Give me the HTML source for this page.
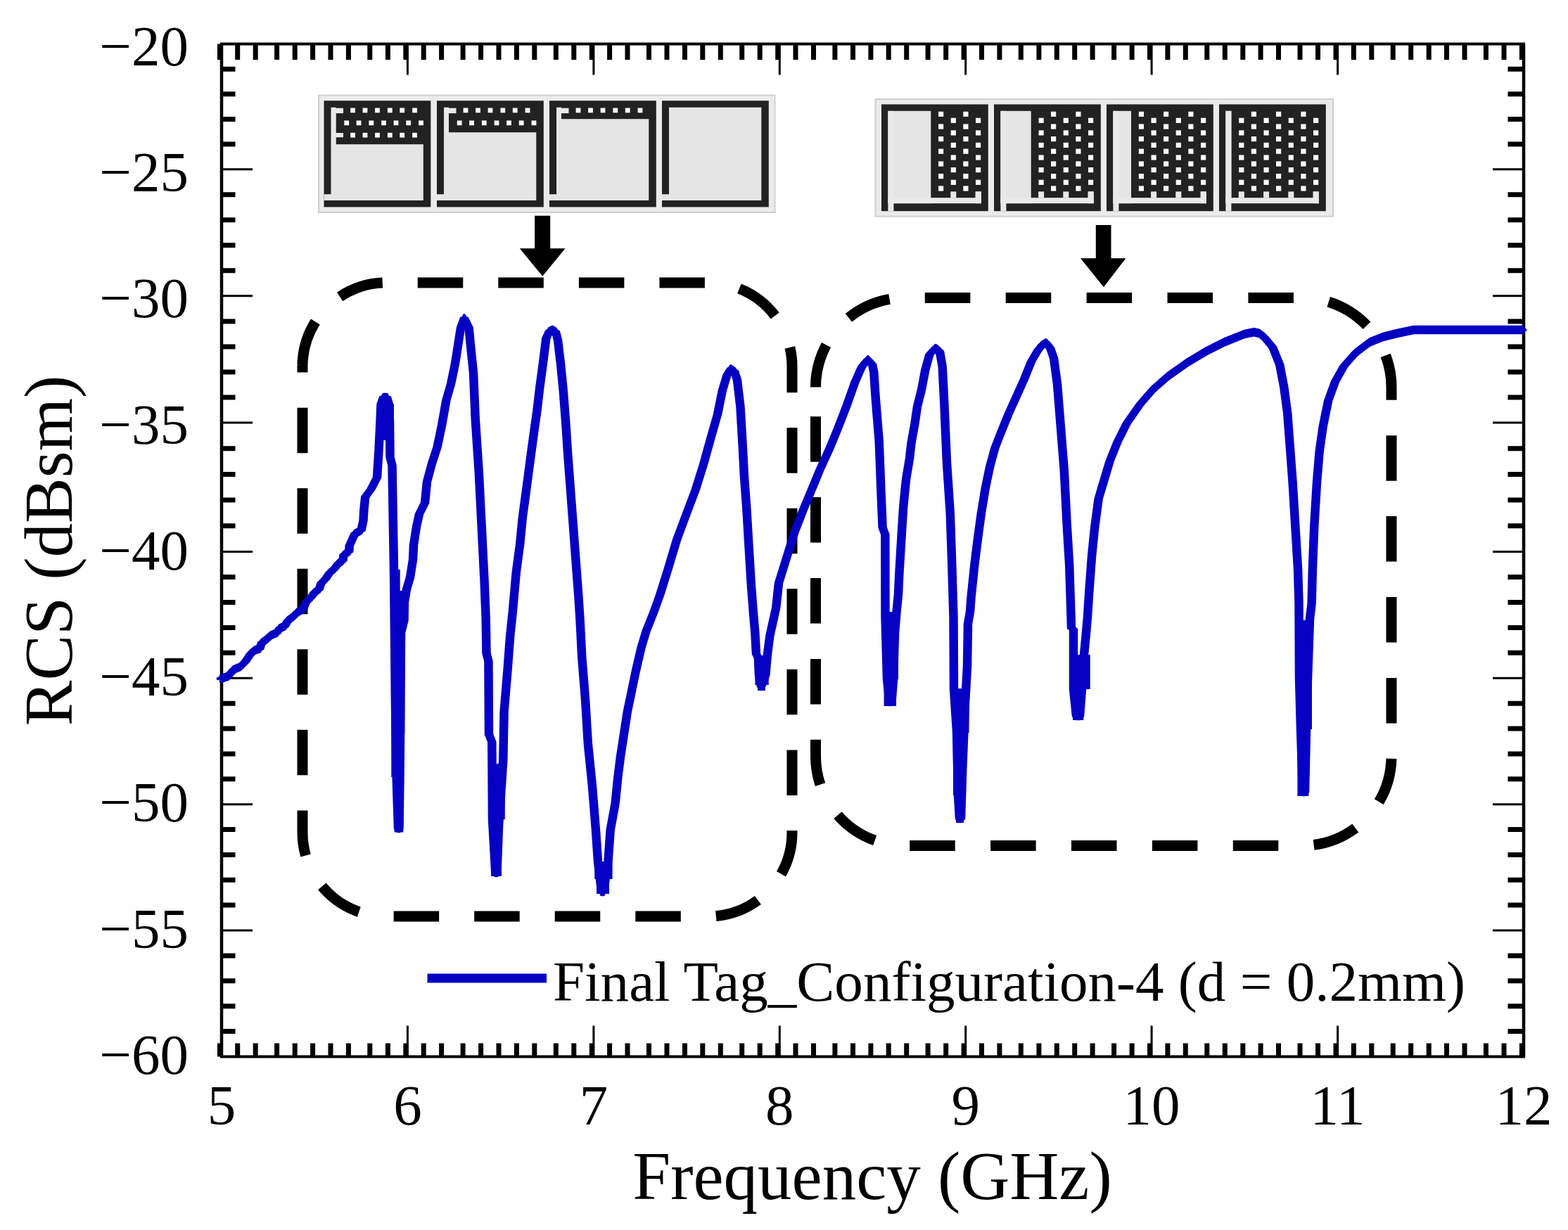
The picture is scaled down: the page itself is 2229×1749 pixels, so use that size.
<!DOCTYPE html>
<html><head><meta charset="utf-8"><title>RCS vs Frequency</title><style>html,body{margin:0;padding:0;background:#fff;overflow:hidden}svg{display:block}</style></head><body>
<svg width="2229" height="1749" viewBox="0 0 2229 1749">
<rect x="0" y="0" width="2229" height="1749" fill="#ffffff"/>
<path d="M312.4,1502.5V1483.5M312.4,62.5V85.0 M337.7,1502.5V1483.5M337.7,62.5V85.0 M363.2,1502.5V1483.5M363.2,62.5V85.0 M393.6,1502.5V1483.5M393.6,62.5V85.0 M419.2,1502.5V1483.5M419.2,62.5V85.0 M444.6,1502.5V1483.5M444.6,62.5V85.0 M470.0,1502.5V1483.5M470.0,62.5V85.0 M495.4,1502.5V1483.5M495.4,62.5V85.0 M525.8,1502.5V1483.5M525.8,62.5V85.0 M551.4,1502.5V1483.5M551.4,62.5V85.0 M576.8,1502.5V1483.5M576.8,62.5V85.0 M602.2,1502.5V1483.5M602.2,62.5V85.0 M627.6,1502.5V1483.5M627.6,62.5V85.0 M658.1,1502.5V1483.5M658.1,62.5V85.0 M683.6,1502.5V1483.5M683.6,62.5V85.0 M709.0,1502.5V1483.5M709.0,62.5V85.0 M734.4,1502.5V1483.5M734.4,62.5V85.0 M759.8,1502.5V1483.5M759.8,62.5V85.0 M790.3,1502.5V1483.5M790.3,62.5V85.0 M815.8,1502.5V1483.5M815.8,62.5V85.0 M841.3,1502.5V1483.5M841.3,62.5V85.0 M866.6,1502.5V1483.5M866.6,62.5V85.0 M892.0,1502.5V1483.5M892.0,62.5V85.0 M922.5,1502.5V1483.5M922.5,62.5V85.0 M948.0,1502.5V1483.5M948.0,62.5V85.0 M973.5,1502.5V1483.5M973.5,62.5V85.0 M998.8,1502.5V1483.5M998.8,62.5V85.0 M1024.3,1502.5V1483.5M1024.3,62.5V85.0 M1054.7,1502.5V1483.5M1054.7,62.5V85.0 M1080.2,1502.5V1483.5M1080.2,62.5V85.0 M1105.7,1502.5V1483.5M1105.7,62.5V85.0 M1131.0,1502.5V1483.5M1131.0,62.5V85.0 M1156.5,1502.5V1483.5M1156.5,62.5V85.0 M1186.9,1502.5V1483.5M1186.9,62.5V85.0 M1212.5,1502.5V1483.5M1212.5,62.5V85.0 M1237.9,1502.5V1483.5M1237.9,62.5V85.0 M1263.2,1502.5V1483.5M1263.2,62.5V85.0 M1288.7,1502.5V1483.5M1288.7,62.5V85.0 M1319.1,1502.5V1483.5M1319.1,62.5V85.0 M1344.7,1502.5V1483.5M1344.7,62.5V85.0 M1370.1,1502.5V1483.5M1370.1,62.5V85.0 M1395.5,1502.5V1483.5M1395.5,62.5V85.0 M1420.9,1502.5V1483.5M1420.9,62.5V85.0 M1451.3,1502.5V1483.5M1451.3,62.5V85.0 M1476.9,1502.5V1483.5M1476.9,62.5V85.0 M1502.3,1502.5V1483.5M1502.3,62.5V85.0 M1527.7,1502.5V1483.5M1527.7,62.5V85.0 M1553.1,1502.5V1483.5M1553.1,62.5V85.0 M1583.6,1502.5V1483.5M1583.6,62.5V85.0 M1609.1,1502.5V1483.5M1609.1,62.5V85.0 M1634.5,1502.5V1483.5M1634.5,62.5V85.0 M1659.9,1502.5V1483.5M1659.9,62.5V85.0 M1685.3,1502.5V1483.5M1685.3,62.5V85.0 M1715.8,1502.5V1483.5M1715.8,62.5V85.0 M1741.3,1502.5V1483.5M1741.3,62.5V85.0 M1766.8,1502.5V1483.5M1766.8,62.5V85.0 M1792.1,1502.5V1483.5M1792.1,62.5V85.0 M1817.5,1502.5V1483.5M1817.5,62.5V85.0 M1848.0,1502.5V1483.5M1848.0,62.5V85.0 M1873.5,1502.5V1483.5M1873.5,62.5V85.0 M1899.0,1502.5V1483.5M1899.0,62.5V85.0 M1924.3,1502.5V1483.5M1924.3,62.5V85.0 M1949.8,1502.5V1483.5M1949.8,62.5V85.0 M1980.2,1502.5V1483.5M1980.2,62.5V85.0 M2005.7,1502.5V1483.5M2005.7,62.5V85.0 M2031.2,1502.5V1483.5M2031.2,62.5V85.0 M2056.5,1502.5V1483.5M2056.5,62.5V85.0 M2082.0,1502.5V1483.5M2082.0,62.5V85.0 M2112.4,1502.5V1483.5M2112.4,62.5V85.0 M2138.0,1502.5V1483.5M2138.0,62.5V85.0 M2163.4,1502.5V1483.5M2163.4,62.5V85.0" stroke="#000" stroke-width="7.0" fill="none"/>
<path d="M315.0,98.2H334.5M2166.0,98.2H2143.5 M315.0,133.8H334.5M2166.0,133.8H2143.5 M315.0,169.5H334.5M2166.0,169.5H2143.5 M315.0,205.1H334.5M2166.0,205.1H2143.5 M315.0,276.8H334.5M2166.0,276.8H2143.5 M315.0,312.8H334.5M2166.0,312.8H2143.5 M315.0,348.8H334.5M2166.0,348.8H2143.5 M315.0,384.8H334.5M2166.0,384.8H2143.5 M315.0,456.9H334.5M2166.0,456.9H2143.5 M315.0,492.9H334.5M2166.0,492.9H2143.5 M315.0,529.0H334.5M2166.0,529.0H2143.5 M315.0,565.0H334.5M2166.0,565.0H2143.5 M315.0,637.8H334.5M2166.0,637.8H2143.5 M315.0,674.5H334.5M2166.0,674.5H2143.5 M315.0,711.1H334.5M2166.0,711.1H2143.5 M315.0,747.8H334.5M2166.0,747.8H2143.5 M315.0,820.5H334.5M2166.0,820.5H2143.5 M315.0,856.4H334.5M2166.0,856.4H2143.5 M315.0,892.4H334.5M2166.0,892.4H2143.5 M315.0,928.3H334.5M2166.0,928.3H2143.5 M315.0,1000.2H334.5M2166.0,1000.2H2143.5 M315.0,1036.1H334.5M2166.0,1036.1H2143.5 M315.0,1071.9H334.5M2166.0,1071.9H2143.5 M315.0,1107.8H334.5M2166.0,1107.8H2143.5 M315.0,1179.6H334.5M2166.0,1179.6H2143.5 M315.0,1215.4H334.5M2166.0,1215.4H2143.5 M315.0,1251.3H334.5M2166.0,1251.3H2143.5 M315.0,1287.1H334.5M2166.0,1287.1H2143.5 M315.0,1358.9H334.5M2166.0,1358.9H2143.5 M315.0,1394.8H334.5M2166.0,1394.8H2143.5 M315.0,1430.7H334.5M2166.0,1430.7H2143.5 M315.0,1466.6H334.5M2166.0,1466.6H2143.5" stroke="#000" stroke-width="7.0" fill="none"/>
<path d="M579.4,1502.5V1458.5M579.4,62.5V106.5 M843.9,1502.5V1458.5M843.9,62.5V106.5 M1108.3,1502.5V1458.5M1108.3,62.5V106.5 M1372.7,1502.5V1458.5M1372.7,62.5V106.5 M1637.1,1502.5V1458.5M1637.1,62.5V106.5 M1901.6,1502.5V1458.5M1901.6,62.5V106.5 M315.0,240.8H359.0M2166.0,240.8H2122.0 M315.0,420.8H359.0M2166.0,420.8H2122.0 M315.0,601.1H359.0M2166.0,601.1H2122.0 M315.0,784.5H359.0M2166.0,784.5H2122.0 M315.0,964.3H359.0M2166.0,964.3H2122.0 M315.0,1143.7H359.0M2166.0,1143.7H2122.0 M315.0,1323.0H359.0M2166.0,1323.0H2122.0" stroke="#000" stroke-width="3" fill="none"/>
<path d="M315.0,62.5V1502.5M2166.0,62.5V1502.5" stroke="#000" stroke-width="4.5" fill="none"/>
<path d="M313.0,62.5H2168.0M313.0,1502.5H2168.0" stroke="#000" stroke-width="4" fill="none"/>
<text x="268" y="92.6" font-family="'Liberation Serif','Times New Roman',serif" font-size="81" text-anchor="end">&#8722;20</text>
<text x="268" y="271.9" font-family="'Liberation Serif','Times New Roman',serif" font-size="81" text-anchor="end">&#8722;25</text>
<text x="268" y="451.2" font-family="'Liberation Serif','Times New Roman',serif" font-size="81" text-anchor="end">&#8722;30</text>
<text x="268" y="630.5" font-family="'Liberation Serif','Times New Roman',serif" font-size="81" text-anchor="end">&#8722;35</text>
<text x="268" y="809.8" font-family="'Liberation Serif','Times New Roman',serif" font-size="81" text-anchor="end">&#8722;40</text>
<text x="268" y="989.1" font-family="'Liberation Serif','Times New Roman',serif" font-size="81" text-anchor="end">&#8722;45</text>
<text x="268" y="1168.4" font-family="'Liberation Serif','Times New Roman',serif" font-size="81" text-anchor="end">&#8722;50</text>
<text x="268" y="1347.7" font-family="'Liberation Serif','Times New Roman',serif" font-size="81" text-anchor="end">&#8722;55</text>
<text x="268" y="1527.0" font-family="'Liberation Serif','Times New Roman',serif" font-size="81" text-anchor="end">&#8722;60</text>
<text x="315.0" y="1598.5" font-family="'Liberation Serif','Times New Roman',serif" font-size="81" text-anchor="middle">5</text>
<text x="579.4" y="1598.5" font-family="'Liberation Serif','Times New Roman',serif" font-size="81" text-anchor="middle">6</text>
<text x="843.9" y="1598.5" font-family="'Liberation Serif','Times New Roman',serif" font-size="81" text-anchor="middle">7</text>
<text x="1108.3" y="1598.5" font-family="'Liberation Serif','Times New Roman',serif" font-size="81" text-anchor="middle">8</text>
<text x="1372.7" y="1598.5" font-family="'Liberation Serif','Times New Roman',serif" font-size="81" text-anchor="middle">9</text>
<text x="1637.1" y="1598.5" font-family="'Liberation Serif','Times New Roman',serif" font-size="81" text-anchor="middle">10</text>
<text x="1901.6" y="1598.5" font-family="'Liberation Serif','Times New Roman',serif" font-size="81" text-anchor="middle">11</text>
<text x="2166.0" y="1598.5" font-family="'Liberation Serif','Times New Roman',serif" font-size="81" text-anchor="middle">12</text>
<text x="1240" y="1705" font-family="'Liberation Serif','Times New Roman',serif" font-size="97" text-anchor="middle">Frequency (GHz)</text>
<text transform="translate(102,783) rotate(-90)" x="0" y="0" font-family="'Liberation Serif','Times New Roman',serif" font-size="97" text-anchor="middle">RCS (dBsm)</text>
<path d="M430,521 A119,119 0 0 1 549,402 H1007 A119,119 0 0 1 1126,521 V1184 A119,119 0 0 1 1007,1303 H549 A119,119 0 0 1 430,1184 V518.5" stroke="#000" stroke-width="15" fill="none" stroke-dasharray="64.5 50.05" stroke-dashoffset="112.04"/>
<path d="M1159.5,550.5 A127,127 0 0 1 1286.5,423.5 H1851 A127,127 0 0 1 1978,550.5 V1075.5 A127,127 0 0 1 1851,1202.5 H1286.5 A127,127 0 0 1 1159.5,1075.5 V550.5" stroke="#000" stroke-width="15" fill="none" stroke-dasharray="64.5 50.4" stroke-dashoffset="2.07"/>
<g fill="none" stroke="#0600c2" stroke-width="4.5" stroke-linejoin="round" stroke-linecap="round"><path id="cv" d="M314,965 L324.4,961.6 L331.9,952.3 L341.4,948.2 L348.7,941.0 L356.2,929.8 L362.0,924.7 L369.3,922.3 L371.9,914.3 L378.7,909.2 L385.4,903.3 L393.7,899.8 L397.8,893.3 L404.9,890.4 L409.0,882.6 L416.2,877.3 L422.8,870.6 L431.1,866.1 L434.9,856.4 L442.4,849.2 L447.0,842.6 L453.6,838.0 L456.5,829.4 L463.0,823.0 L468.5,814.6 L476.1,808.0 L480.7,801.4 L487.4,796.8 L488.6,789.1 L496.2,784.2 L496.7,776.2 L504.2,759.3 L513.6,753.7 L516.5,740 L517.3,725.6 L519.2,706.8 L527.5,695.5 L536,679 L538.5,640 L540.5,600 L541.5,575 L545,565 L550,565 L553,575 L554,600 L554.5,650 L557.5,662 L560,810 L562,1000 L563.5,1100 L566,1178 L567.5,1178 L568.5,1100 L569,1044 L570,900 L574,884 L575,856 L578,838 L583,821 L587,796 L588,775 L592,749 L596,731 L604,715 L607,685 L614,659 L621.5,636 L628,605 L634.4,569 L641,546 L647,517 L651,491.5 L655,466 L660,452.5 L666.6,466 L669,491.5 L673,530 L675.7,594.6 L678.2,633.3 L680.8,672 L683.4,723.5 L686,775 L688.6,826.6 L690.7,880 L691.5,928.9 L694.4,940 L695,1044 L699.3,1055 L700,1165 L704.3,1241 L706.5,1241 L709,1175 L715.3,1081 L716.6,1012 L721.5,953 L725.2,904 L728.8,870 L733.8,813.6 L739,775 L742.8,736.3 L748,697.7 L753.1,659 L758.3,620.4 L763.4,584.3 L767.3,550.8 L772.5,512.1 L776.3,481.2 L781,471 L785.3,469 L790,472 L793,483.8 L797,517.3 L800.8,556 L804.7,607.5 L807.2,646 L811.1,697.7 L815,749.2 L818.8,800.7 L822.7,852.3 L824.7,884.6 L827.2,933.8 L832.1,995.2 L835.8,1056.7 L842,1118.2 L846.9,1179.6 L850,1225 L855,1268 L858,1268 L864.5,1225 L867.7,1180 L874.6,1142.6 L878.3,1105.7 L882,1076.2 L886.9,1044.3 L891.8,1012.3 L897.9,982.9 L904,953.4 L911.4,921.4 L918.8,896.9 L928.6,872.3 L937.8,847 L949,811.4 L962.3,766.9 L975.6,731.3 L989,695.7 L1000.1,660.1 L1011.2,620.1 L1020.1,589 L1026.8,555.6 L1033.5,533.4 L1039,524.5 L1044,528 L1047.9,540 L1052.4,577.8 L1055.7,633.5 L1058,678 L1061.3,722.4 L1064.6,778 L1068,833.6 L1071.3,875.9 L1073.4,900 L1075,930 L1077.8,935 L1079,960 L1082,976 L1085,970 L1088.3,960 L1091,930 L1094.4,904 L1099.7,880 L1103.2,864.4 L1107,829.2 L1116.9,797.2 L1129.2,757.8 L1141.5,725.9 L1153.8,696.4 L1166,666.9 L1178.4,639.8 L1190.6,610.3 L1203,578.4 L1215.2,543.9 L1225,521.8 L1233.7,511.5 L1240,518 L1242.3,529.2 L1244.7,566 L1249.7,627.5 L1252.5,700 L1254.6,750 L1258.3,760 L1258.5,878 L1261,966 L1264.5,998 L1267.5,998 L1270,966 L1272,900 L1274.5,870 L1277,845 L1278.3,816.5 L1282,755 L1284.4,718.2 L1288.1,681.3 L1293,651.8 L1295.5,629.7 L1300.4,602.6 L1304,578 L1310.2,553.4 L1315.2,526.4 L1321.3,504.3 L1330,495 L1336,500 L1339.7,521.5 L1342.2,570.6 L1345.9,656.7 L1350.8,730.5 L1353.3,804.2 L1355.5,878 L1356,979 L1360,1040 L1362,1131 L1364,1164 L1366,1164 L1368,1100 L1372,1000 L1375,948 L1376,887 L1379,870 L1380.5,850 L1385.2,804.2 L1389.8,767.4 L1394.8,730.5 L1400.9,693.6 L1407,664.1 L1414.4,637 L1423,614.9 L1434,587.9 L1445.2,563.3 L1456.2,538.7 L1466,514.1 L1474.7,499.3 L1481,491 L1487,487.5 L1493,495 L1498,509.2 L1503,546 L1507.9,607.5 L1512.8,669 L1516.5,742.8 L1520.2,804.2 L1522.6,878 L1523,893 L1526,895 L1526,980 L1530,1018 L1535,1018 L1538,980 L1541,931 L1544,900 L1546,877 L1548.1,844.1 L1552.1,790.2 L1556.2,749.8 L1561.6,709.4 L1569.6,682.5 L1577.7,655.5 L1588.5,628.6 L1602,601.6 L1620.8,574.7 L1639.7,553.1 L1661.2,534.3 L1688.2,515.4 L1715.1,499.3 L1742,485.8 L1769,475 L1782.5,472.3 L1790,474 L1797,479.3 L1809.3,494 L1819.2,518.7 L1825.3,550.6 L1830.2,587.5 L1833.9,636.7 L1837.6,685.8 L1841.3,747.3 L1845,808.7 L1846.5,857.9 L1847,964 L1849,1037 L1852,1126 L1855,1126 L1857,1037 L1859,964 L1862,880 L1864.6,857.9 L1865.9,808.7 L1868.3,747.3 L1872,685.8 L1875.7,641.6 L1880.6,607.2 L1888,570.3 L1897.8,543.2 L1910.1,521.1 L1927.3,501.5 L1947,486.7 L1966,479 L1986,474 L2010,469 L2164,469"/><path d="M314,965 L324.4,961.6 L331.9,952.3 L341.4,948.2 L348.7,941.0 L356.2,929.8 L362.0,924.7 L369.3,922.3 L371.9,914.3 L378.7,909.2 L385.4,903.3 L393.7,899.8 L397.8,893.3 L404.9,890.4 L409.0,882.6 L416.2,877.3 L422.8,870.6 L431.1,866.1 L434.9,856.4 L442.4,849.2 L447.0,842.6 L453.6,838.0 L456.5,829.4 L463.0,823.0 L468.5,814.6 L476.1,808.0 L480.7,801.4 L487.4,796.8 L488.6,789.1 L496.2,784.2 L496.7,776.2 L504.2,759.3 L513.6,753.7 L516.5,740 L517.3,725.6 L519.2,706.8 L527.5,695.5 L536,679 L538.5,640 L540.5,600 L541.5,575 L545,565 L550,565 L553,575 L554,600 L554.5,650 L557.5,662 L560,810 L562,1000 L563.5,1100 L566,1178 L567.5,1178 L568.5,1100 L569,1044 L570,900 L574,884 L575,856 L578,838 L583,821 L587,796 L588,775 L592,749 L596,731 L604,715 L607,685 L614,659 L621.5,636 L628,605 L634.4,569 L641,546 L647,517 L651,491.5 L655,466 L660,452.5 L666.6,466 L669,491.5 L673,530 L675.7,594.6 L678.2,633.3 L680.8,672 L683.4,723.5 L686,775 L688.6,826.6 L690.7,880 L691.5,928.9 L694.4,940 L695,1044 L699.3,1055 L700,1165 L704.3,1241 L706.5,1241 L709,1175 L715.3,1081 L716.6,1012 L721.5,953 L725.2,904 L728.8,870 L733.8,813.6 L739,775 L742.8,736.3 L748,697.7 L753.1,659 L758.3,620.4 L763.4,584.3 L767.3,550.8 L772.5,512.1 L776.3,481.2 L781,471 L785.3,469 L790,472 L793,483.8 L797,517.3 L800.8,556 L804.7,607.5 L807.2,646 L811.1,697.7 L815,749.2 L818.8,800.7 L822.7,852.3 L824.7,884.6 L827.2,933.8 L832.1,995.2 L835.8,1056.7 L842,1118.2 L846.9,1179.6 L850,1225 L855,1268 L858,1268 L864.5,1225 L867.7,1180 L874.6,1142.6 L878.3,1105.7 L882,1076.2 L886.9,1044.3 L891.8,1012.3 L897.9,982.9 L904,953.4 L911.4,921.4 L918.8,896.9 L928.6,872.3 L937.8,847 L949,811.4 L962.3,766.9 L975.6,731.3 L989,695.7 L1000.1,660.1 L1011.2,620.1 L1020.1,589 L1026.8,555.6 L1033.5,533.4 L1039,524.5 L1044,528 L1047.9,540 L1052.4,577.8 L1055.7,633.5 L1058,678 L1061.3,722.4 L1064.6,778 L1068,833.6 L1071.3,875.9 L1073.4,900 L1075,930 L1077.8,935 L1079,960 L1082,976 L1085,970 L1088.3,960 L1091,930 L1094.4,904 L1099.7,880 L1103.2,864.4 L1107,829.2 L1116.9,797.2 L1129.2,757.8 L1141.5,725.9 L1153.8,696.4 L1166,666.9 L1178.4,639.8 L1190.6,610.3 L1203,578.4 L1215.2,543.9 L1225,521.8 L1233.7,511.5 L1240,518 L1242.3,529.2 L1244.7,566 L1249.7,627.5 L1252.5,700 L1254.6,750 L1258.3,760 L1258.5,878 L1261,966 L1264.5,998 L1267.5,998 L1270,966 L1272,900 L1274.5,870 L1277,845 L1278.3,816.5 L1282,755 L1284.4,718.2 L1288.1,681.3 L1293,651.8 L1295.5,629.7 L1300.4,602.6 L1304,578 L1310.2,553.4 L1315.2,526.4 L1321.3,504.3 L1330,495 L1336,500 L1339.7,521.5 L1342.2,570.6 L1345.9,656.7 L1350.8,730.5 L1353.3,804.2 L1355.5,878 L1356,979 L1360,1040 L1362,1131 L1364,1164 L1366,1164 L1368,1100 L1372,1000 L1375,948 L1376,887 L1379,870 L1380.5,850 L1385.2,804.2 L1389.8,767.4 L1394.8,730.5 L1400.9,693.6 L1407,664.1 L1414.4,637 L1423,614.9 L1434,587.9 L1445.2,563.3 L1456.2,538.7 L1466,514.1 L1474.7,499.3 L1481,491 L1487,487.5 L1493,495 L1498,509.2 L1503,546 L1507.9,607.5 L1512.8,669 L1516.5,742.8 L1520.2,804.2 L1522.6,878 L1523,893 L1526,895 L1526,980 L1530,1018 L1535,1018 L1538,980 L1541,931 L1544,900 L1546,877 L1548.1,844.1 L1552.1,790.2 L1556.2,749.8 L1561.6,709.4 L1569.6,682.5 L1577.7,655.5 L1588.5,628.6 L1602,601.6 L1620.8,574.7 L1639.7,553.1 L1661.2,534.3 L1688.2,515.4 L1715.1,499.3 L1742,485.8 L1769,475 L1782.5,472.3 L1790,474 L1797,479.3 L1809.3,494 L1819.2,518.7 L1825.3,550.6 L1830.2,587.5 L1833.9,636.7 L1837.6,685.8 L1841.3,747.3 L1845,808.7 L1846.5,857.9 L1847,964 L1849,1037 L1852,1126 L1855,1126 L1857,1037 L1859,964 L1862,880 L1864.6,857.9 L1865.9,808.7 L1868.3,747.3 L1872,685.8 L1875.7,641.6 L1880.6,607.2 L1888,570.3 L1897.8,543.2 L1910.1,521.1 L1927.3,501.5 L1947,486.7 L1966,479 L1986,474 L2010,469 L2164,469" transform="translate(0,-4)"/><path d="M314,965 L324.4,961.6 L331.9,952.3 L341.4,948.2 L348.7,941.0 L356.2,929.8 L362.0,924.7 L369.3,922.3 L371.9,914.3 L378.7,909.2 L385.4,903.3 L393.7,899.8 L397.8,893.3 L404.9,890.4 L409.0,882.6 L416.2,877.3 L422.8,870.6 L431.1,866.1 L434.9,856.4 L442.4,849.2 L447.0,842.6 L453.6,838.0 L456.5,829.4 L463.0,823.0 L468.5,814.6 L476.1,808.0 L480.7,801.4 L487.4,796.8 L488.6,789.1 L496.2,784.2 L496.7,776.2 L504.2,759.3 L513.6,753.7 L516.5,740 L517.3,725.6 L519.2,706.8 L527.5,695.5 L536,679 L538.5,640 L540.5,600 L541.5,575 L545,565 L550,565 L553,575 L554,600 L554.5,650 L557.5,662 L560,810 L562,1000 L563.5,1100 L566,1178 L567.5,1178 L568.5,1100 L569,1044 L570,900 L574,884 L575,856 L578,838 L583,821 L587,796 L588,775 L592,749 L596,731 L604,715 L607,685 L614,659 L621.5,636 L628,605 L634.4,569 L641,546 L647,517 L651,491.5 L655,466 L660,452.5 L666.6,466 L669,491.5 L673,530 L675.7,594.6 L678.2,633.3 L680.8,672 L683.4,723.5 L686,775 L688.6,826.6 L690.7,880 L691.5,928.9 L694.4,940 L695,1044 L699.3,1055 L700,1165 L704.3,1241 L706.5,1241 L709,1175 L715.3,1081 L716.6,1012 L721.5,953 L725.2,904 L728.8,870 L733.8,813.6 L739,775 L742.8,736.3 L748,697.7 L753.1,659 L758.3,620.4 L763.4,584.3 L767.3,550.8 L772.5,512.1 L776.3,481.2 L781,471 L785.3,469 L790,472 L793,483.8 L797,517.3 L800.8,556 L804.7,607.5 L807.2,646 L811.1,697.7 L815,749.2 L818.8,800.7 L822.7,852.3 L824.7,884.6 L827.2,933.8 L832.1,995.2 L835.8,1056.7 L842,1118.2 L846.9,1179.6 L850,1225 L855,1268 L858,1268 L864.5,1225 L867.7,1180 L874.6,1142.6 L878.3,1105.7 L882,1076.2 L886.9,1044.3 L891.8,1012.3 L897.9,982.9 L904,953.4 L911.4,921.4 L918.8,896.9 L928.6,872.3 L937.8,847 L949,811.4 L962.3,766.9 L975.6,731.3 L989,695.7 L1000.1,660.1 L1011.2,620.1 L1020.1,589 L1026.8,555.6 L1033.5,533.4 L1039,524.5 L1044,528 L1047.9,540 L1052.4,577.8 L1055.7,633.5 L1058,678 L1061.3,722.4 L1064.6,778 L1068,833.6 L1071.3,875.9 L1073.4,900 L1075,930 L1077.8,935 L1079,960 L1082,976 L1085,970 L1088.3,960 L1091,930 L1094.4,904 L1099.7,880 L1103.2,864.4 L1107,829.2 L1116.9,797.2 L1129.2,757.8 L1141.5,725.9 L1153.8,696.4 L1166,666.9 L1178.4,639.8 L1190.6,610.3 L1203,578.4 L1215.2,543.9 L1225,521.8 L1233.7,511.5 L1240,518 L1242.3,529.2 L1244.7,566 L1249.7,627.5 L1252.5,700 L1254.6,750 L1258.3,760 L1258.5,878 L1261,966 L1264.5,998 L1267.5,998 L1270,966 L1272,900 L1274.5,870 L1277,845 L1278.3,816.5 L1282,755 L1284.4,718.2 L1288.1,681.3 L1293,651.8 L1295.5,629.7 L1300.4,602.6 L1304,578 L1310.2,553.4 L1315.2,526.4 L1321.3,504.3 L1330,495 L1336,500 L1339.7,521.5 L1342.2,570.6 L1345.9,656.7 L1350.8,730.5 L1353.3,804.2 L1355.5,878 L1356,979 L1360,1040 L1362,1131 L1364,1164 L1366,1164 L1368,1100 L1372,1000 L1375,948 L1376,887 L1379,870 L1380.5,850 L1385.2,804.2 L1389.8,767.4 L1394.8,730.5 L1400.9,693.6 L1407,664.1 L1414.4,637 L1423,614.9 L1434,587.9 L1445.2,563.3 L1456.2,538.7 L1466,514.1 L1474.7,499.3 L1481,491 L1487,487.5 L1493,495 L1498,509.2 L1503,546 L1507.9,607.5 L1512.8,669 L1516.5,742.8 L1520.2,804.2 L1522.6,878 L1523,893 L1526,895 L1526,980 L1530,1018 L1535,1018 L1538,980 L1541,931 L1544,900 L1546,877 L1548.1,844.1 L1552.1,790.2 L1556.2,749.8 L1561.6,709.4 L1569.6,682.5 L1577.7,655.5 L1588.5,628.6 L1602,601.6 L1620.8,574.7 L1639.7,553.1 L1661.2,534.3 L1688.2,515.4 L1715.1,499.3 L1742,485.8 L1769,475 L1782.5,472.3 L1790,474 L1797,479.3 L1809.3,494 L1819.2,518.7 L1825.3,550.6 L1830.2,587.5 L1833.9,636.7 L1837.6,685.8 L1841.3,747.3 L1845,808.7 L1846.5,857.9 L1847,964 L1849,1037 L1852,1126 L1855,1126 L1857,1037 L1859,964 L1862,880 L1864.6,857.9 L1865.9,808.7 L1868.3,747.3 L1872,685.8 L1875.7,641.6 L1880.6,607.2 L1888,570.3 L1897.8,543.2 L1910.1,521.1 L1927.3,501.5 L1947,486.7 L1966,479 L1986,474 L2010,469 L2164,469" transform="translate(0,4)"/><path d="M314,965 L324.4,961.6 L331.9,952.3 L341.4,948.2 L348.7,941.0 L356.2,929.8 L362.0,924.7 L369.3,922.3 L371.9,914.3 L378.7,909.2 L385.4,903.3 L393.7,899.8 L397.8,893.3 L404.9,890.4 L409.0,882.6 L416.2,877.3 L422.8,870.6 L431.1,866.1 L434.9,856.4 L442.4,849.2 L447.0,842.6 L453.6,838.0 L456.5,829.4 L463.0,823.0 L468.5,814.6 L476.1,808.0 L480.7,801.4 L487.4,796.8 L488.6,789.1 L496.2,784.2 L496.7,776.2 L504.2,759.3 L513.6,753.7 L516.5,740 L517.3,725.6 L519.2,706.8 L527.5,695.5 L536,679 L538.5,640 L540.5,600 L541.5,575 L545,565 L550,565 L553,575 L554,600 L554.5,650 L557.5,662 L560,810 L562,1000 L563.5,1100 L566,1178 L567.5,1178 L568.5,1100 L569,1044 L570,900 L574,884 L575,856 L578,838 L583,821 L587,796 L588,775 L592,749 L596,731 L604,715 L607,685 L614,659 L621.5,636 L628,605 L634.4,569 L641,546 L647,517 L651,491.5 L655,466 L660,452.5 L666.6,466 L669,491.5 L673,530 L675.7,594.6 L678.2,633.3 L680.8,672 L683.4,723.5 L686,775 L688.6,826.6 L690.7,880 L691.5,928.9 L694.4,940 L695,1044 L699.3,1055 L700,1165 L704.3,1241 L706.5,1241 L709,1175 L715.3,1081 L716.6,1012 L721.5,953 L725.2,904 L728.8,870 L733.8,813.6 L739,775 L742.8,736.3 L748,697.7 L753.1,659 L758.3,620.4 L763.4,584.3 L767.3,550.8 L772.5,512.1 L776.3,481.2 L781,471 L785.3,469 L790,472 L793,483.8 L797,517.3 L800.8,556 L804.7,607.5 L807.2,646 L811.1,697.7 L815,749.2 L818.8,800.7 L822.7,852.3 L824.7,884.6 L827.2,933.8 L832.1,995.2 L835.8,1056.7 L842,1118.2 L846.9,1179.6 L850,1225 L855,1268 L858,1268 L864.5,1225 L867.7,1180 L874.6,1142.6 L878.3,1105.7 L882,1076.2 L886.9,1044.3 L891.8,1012.3 L897.9,982.9 L904,953.4 L911.4,921.4 L918.8,896.9 L928.6,872.3 L937.8,847 L949,811.4 L962.3,766.9 L975.6,731.3 L989,695.7 L1000.1,660.1 L1011.2,620.1 L1020.1,589 L1026.8,555.6 L1033.5,533.4 L1039,524.5 L1044,528 L1047.9,540 L1052.4,577.8 L1055.7,633.5 L1058,678 L1061.3,722.4 L1064.6,778 L1068,833.6 L1071.3,875.9 L1073.4,900 L1075,930 L1077.8,935 L1079,960 L1082,976 L1085,970 L1088.3,960 L1091,930 L1094.4,904 L1099.7,880 L1103.2,864.4 L1107,829.2 L1116.9,797.2 L1129.2,757.8 L1141.5,725.9 L1153.8,696.4 L1166,666.9 L1178.4,639.8 L1190.6,610.3 L1203,578.4 L1215.2,543.9 L1225,521.8 L1233.7,511.5 L1240,518 L1242.3,529.2 L1244.7,566 L1249.7,627.5 L1252.5,700 L1254.6,750 L1258.3,760 L1258.5,878 L1261,966 L1264.5,998 L1267.5,998 L1270,966 L1272,900 L1274.5,870 L1277,845 L1278.3,816.5 L1282,755 L1284.4,718.2 L1288.1,681.3 L1293,651.8 L1295.5,629.7 L1300.4,602.6 L1304,578 L1310.2,553.4 L1315.2,526.4 L1321.3,504.3 L1330,495 L1336,500 L1339.7,521.5 L1342.2,570.6 L1345.9,656.7 L1350.8,730.5 L1353.3,804.2 L1355.5,878 L1356,979 L1360,1040 L1362,1131 L1364,1164 L1366,1164 L1368,1100 L1372,1000 L1375,948 L1376,887 L1379,870 L1380.5,850 L1385.2,804.2 L1389.8,767.4 L1394.8,730.5 L1400.9,693.6 L1407,664.1 L1414.4,637 L1423,614.9 L1434,587.9 L1445.2,563.3 L1456.2,538.7 L1466,514.1 L1474.7,499.3 L1481,491 L1487,487.5 L1493,495 L1498,509.2 L1503,546 L1507.9,607.5 L1512.8,669 L1516.5,742.8 L1520.2,804.2 L1522.6,878 L1523,893 L1526,895 L1526,980 L1530,1018 L1535,1018 L1538,980 L1541,931 L1544,900 L1546,877 L1548.1,844.1 L1552.1,790.2 L1556.2,749.8 L1561.6,709.4 L1569.6,682.5 L1577.7,655.5 L1588.5,628.6 L1602,601.6 L1620.8,574.7 L1639.7,553.1 L1661.2,534.3 L1688.2,515.4 L1715.1,499.3 L1742,485.8 L1769,475 L1782.5,472.3 L1790,474 L1797,479.3 L1809.3,494 L1819.2,518.7 L1825.3,550.6 L1830.2,587.5 L1833.9,636.7 L1837.6,685.8 L1841.3,747.3 L1845,808.7 L1846.5,857.9 L1847,964 L1849,1037 L1852,1126 L1855,1126 L1857,1037 L1859,964 L1862,880 L1864.6,857.9 L1865.9,808.7 L1868.3,747.3 L1872,685.8 L1875.7,641.6 L1880.6,607.2 L1888,570.3 L1897.8,543.2 L1910.1,521.1 L1927.3,501.5 L1947,486.7 L1966,479 L1986,474 L2010,469 L2164,469" transform="translate(-4,0)"/><path d="M314,965 L324.4,961.6 L331.9,952.3 L341.4,948.2 L348.7,941.0 L356.2,929.8 L362.0,924.7 L369.3,922.3 L371.9,914.3 L378.7,909.2 L385.4,903.3 L393.7,899.8 L397.8,893.3 L404.9,890.4 L409.0,882.6 L416.2,877.3 L422.8,870.6 L431.1,866.1 L434.9,856.4 L442.4,849.2 L447.0,842.6 L453.6,838.0 L456.5,829.4 L463.0,823.0 L468.5,814.6 L476.1,808.0 L480.7,801.4 L487.4,796.8 L488.6,789.1 L496.2,784.2 L496.7,776.2 L504.2,759.3 L513.6,753.7 L516.5,740 L517.3,725.6 L519.2,706.8 L527.5,695.5 L536,679 L538.5,640 L540.5,600 L541.5,575 L545,565 L550,565 L553,575 L554,600 L554.5,650 L557.5,662 L560,810 L562,1000 L563.5,1100 L566,1178 L567.5,1178 L568.5,1100 L569,1044 L570,900 L574,884 L575,856 L578,838 L583,821 L587,796 L588,775 L592,749 L596,731 L604,715 L607,685 L614,659 L621.5,636 L628,605 L634.4,569 L641,546 L647,517 L651,491.5 L655,466 L660,452.5 L666.6,466 L669,491.5 L673,530 L675.7,594.6 L678.2,633.3 L680.8,672 L683.4,723.5 L686,775 L688.6,826.6 L690.7,880 L691.5,928.9 L694.4,940 L695,1044 L699.3,1055 L700,1165 L704.3,1241 L706.5,1241 L709,1175 L715.3,1081 L716.6,1012 L721.5,953 L725.2,904 L728.8,870 L733.8,813.6 L739,775 L742.8,736.3 L748,697.7 L753.1,659 L758.3,620.4 L763.4,584.3 L767.3,550.8 L772.5,512.1 L776.3,481.2 L781,471 L785.3,469 L790,472 L793,483.8 L797,517.3 L800.8,556 L804.7,607.5 L807.2,646 L811.1,697.7 L815,749.2 L818.8,800.7 L822.7,852.3 L824.7,884.6 L827.2,933.8 L832.1,995.2 L835.8,1056.7 L842,1118.2 L846.9,1179.6 L850,1225 L855,1268 L858,1268 L864.5,1225 L867.7,1180 L874.6,1142.6 L878.3,1105.7 L882,1076.2 L886.9,1044.3 L891.8,1012.3 L897.9,982.9 L904,953.4 L911.4,921.4 L918.8,896.9 L928.6,872.3 L937.8,847 L949,811.4 L962.3,766.9 L975.6,731.3 L989,695.7 L1000.1,660.1 L1011.2,620.1 L1020.1,589 L1026.8,555.6 L1033.5,533.4 L1039,524.5 L1044,528 L1047.9,540 L1052.4,577.8 L1055.7,633.5 L1058,678 L1061.3,722.4 L1064.6,778 L1068,833.6 L1071.3,875.9 L1073.4,900 L1075,930 L1077.8,935 L1079,960 L1082,976 L1085,970 L1088.3,960 L1091,930 L1094.4,904 L1099.7,880 L1103.2,864.4 L1107,829.2 L1116.9,797.2 L1129.2,757.8 L1141.5,725.9 L1153.8,696.4 L1166,666.9 L1178.4,639.8 L1190.6,610.3 L1203,578.4 L1215.2,543.9 L1225,521.8 L1233.7,511.5 L1240,518 L1242.3,529.2 L1244.7,566 L1249.7,627.5 L1252.5,700 L1254.6,750 L1258.3,760 L1258.5,878 L1261,966 L1264.5,998 L1267.5,998 L1270,966 L1272,900 L1274.5,870 L1277,845 L1278.3,816.5 L1282,755 L1284.4,718.2 L1288.1,681.3 L1293,651.8 L1295.5,629.7 L1300.4,602.6 L1304,578 L1310.2,553.4 L1315.2,526.4 L1321.3,504.3 L1330,495 L1336,500 L1339.7,521.5 L1342.2,570.6 L1345.9,656.7 L1350.8,730.5 L1353.3,804.2 L1355.5,878 L1356,979 L1360,1040 L1362,1131 L1364,1164 L1366,1164 L1368,1100 L1372,1000 L1375,948 L1376,887 L1379,870 L1380.5,850 L1385.2,804.2 L1389.8,767.4 L1394.8,730.5 L1400.9,693.6 L1407,664.1 L1414.4,637 L1423,614.9 L1434,587.9 L1445.2,563.3 L1456.2,538.7 L1466,514.1 L1474.7,499.3 L1481,491 L1487,487.5 L1493,495 L1498,509.2 L1503,546 L1507.9,607.5 L1512.8,669 L1516.5,742.8 L1520.2,804.2 L1522.6,878 L1523,893 L1526,895 L1526,980 L1530,1018 L1535,1018 L1538,980 L1541,931 L1544,900 L1546,877 L1548.1,844.1 L1552.1,790.2 L1556.2,749.8 L1561.6,709.4 L1569.6,682.5 L1577.7,655.5 L1588.5,628.6 L1602,601.6 L1620.8,574.7 L1639.7,553.1 L1661.2,534.3 L1688.2,515.4 L1715.1,499.3 L1742,485.8 L1769,475 L1782.5,472.3 L1790,474 L1797,479.3 L1809.3,494 L1819.2,518.7 L1825.3,550.6 L1830.2,587.5 L1833.9,636.7 L1837.6,685.8 L1841.3,747.3 L1845,808.7 L1846.5,857.9 L1847,964 L1849,1037 L1852,1126 L1855,1126 L1857,1037 L1859,964 L1862,880 L1864.6,857.9 L1865.9,808.7 L1868.3,747.3 L1872,685.8 L1875.7,641.6 L1880.6,607.2 L1888,570.3 L1897.8,543.2 L1910.1,521.1 L1927.3,501.5 L1947,486.7 L1966,479 L1986,474 L2010,469 L2164,469" transform="translate(4,0)"/></g>
<path d="M536,575H560V626H536Z M554.6,810H568.7V840H554.6Z M556.3,840H580.6V884H556.3Z M556.3,884H575.3V1044H556.3Z M556.3,1044H574V1105H556.3Z M560.6,1105H573.2V1183.5H560.6Z M694.4,1086H717.8V1165H694.4Z M696,1165H715V1180H696Z M698,1180H713V1246H698Z M845.3,1225H870.6V1250H845.3Z M848,1250H866V1271H848Z M1073.4,932H1092.7V974H1073.4Z M1077,974H1088V982H1077Z M1255.6,870H1277V966H1255.6Z M1256.6,966H1274V1004H1256.6Z M1355,979H1377.5V1042H1355Z M1355,1042H1373V1131H1355Z M1359,1131H1370V1170H1359Z M1520.4,931H1549.7V980H1520.4Z M1525,980H1540.3V1024H1525Z M1844.4,882H1865V1037H1844.4Z M1844.4,1037H1860.3V1132H1844.4Z" fill="#0600c2"/>
<path d="M760.1,306.7 H782.2 V353.2 H803.5 L771.2,392.7 L738.8,353.2 H760.1 Z" fill="#000"/>
<path d="M1557.8,320 H1579.5 V367.2 H1600.4 L1568.9,408.2 L1536,367.2 H1557.8 Z" fill="#000"/>
<rect x="453" y="135.5" width="648.5" height="166.5" fill="#ebebeb" stroke="#cfcfcf" stroke-width="2"/><rect x="460.5" y="143.2" width="151.8" height="151.2" fill="#222222"/><rect x="470.5" y="152.7" width="131.3" height="132.3" fill="#e5e5e5"/><rect x="460.5" y="276.2" width="10.5" height="8.8" fill="#e5e5e5"/><rect x="477.5" y="150.2" width="127" height="55" fill="#222222"/><rect x="477.0" y="153.7" width="11" height="7.4" fill="#e9e9e9"/><rect x="477.0" y="189.0" width="11" height="6.3" fill="#e9e9e9"/><rect x="471.0" y="153.7" width="6.5" height="54" fill="#e9e9e9"/><rect x="498.1" y="153.5" width="6.8" height="6.8" fill="#fcfcfc"/><rect x="515.6" y="153.5" width="6.8" height="6.8" fill="#fcfcfc"/><rect x="533.1" y="153.5" width="6.8" height="6.8" fill="#fcfcfc"/><rect x="550.9" y="153.5" width="6.8" height="6.8" fill="#fcfcfc"/><rect x="568.3" y="153.5" width="6.8" height="6.8" fill="#fcfcfc"/><rect x="586.1" y="153.5" width="6.8" height="6.8" fill="#fcfcfc"/><rect x="489.3" y="171.4" width="6.8" height="6.8" fill="#fcfcfc"/><rect x="506.6" y="171.4" width="6.8" height="6.8" fill="#fcfcfc"/><rect x="524.4" y="171.4" width="6.8" height="6.8" fill="#fcfcfc"/><rect x="542.1" y="171.4" width="6.8" height="6.8" fill="#fcfcfc"/><rect x="559.6" y="171.4" width="6.8" height="6.8" fill="#fcfcfc"/><rect x="577.3" y="171.4" width="6.8" height="6.8" fill="#fcfcfc"/><rect x="595.1" y="171.4" width="6.8" height="6.8" fill="#fcfcfc"/><rect x="498.1" y="188.8" width="6.8" height="6.8" fill="#fcfcfc"/><rect x="515.6" y="188.8" width="6.8" height="6.8" fill="#fcfcfc"/><rect x="533.1" y="188.8" width="6.8" height="6.8" fill="#fcfcfc"/><rect x="550.9" y="188.8" width="6.8" height="6.8" fill="#fcfcfc"/><rect x="568.3" y="188.8" width="6.8" height="6.8" fill="#fcfcfc"/><rect x="586.1" y="188.8" width="6.8" height="6.8" fill="#fcfcfc"/><rect x="621" y="143.2" width="151.8" height="151.2" fill="#222222"/><rect x="631" y="152.7" width="131.3" height="132.3" fill="#e5e5e5"/><rect x="621" y="276.2" width="10.5" height="8.8" fill="#e5e5e5"/><rect x="638" y="150.2" width="127" height="38" fill="#222222"/><rect x="637.5" y="153.7" width="11" height="7.4" fill="#e9e9e9"/><rect x="631.5" y="153.7" width="6.5" height="37" fill="#e9e9e9"/><rect x="658.6" y="153.5" width="6.8" height="6.8" fill="#fcfcfc"/><rect x="676.1" y="153.5" width="6.8" height="6.8" fill="#fcfcfc"/><rect x="693.6" y="153.5" width="6.8" height="6.8" fill="#fcfcfc"/><rect x="711.4" y="153.5" width="6.8" height="6.8" fill="#fcfcfc"/><rect x="728.8" y="153.5" width="6.8" height="6.8" fill="#fcfcfc"/><rect x="746.6" y="153.5" width="6.8" height="6.8" fill="#fcfcfc"/><rect x="649.8" y="171.4" width="6.8" height="6.8" fill="#fcfcfc"/><rect x="667.1" y="171.4" width="6.8" height="6.8" fill="#fcfcfc"/><rect x="684.9" y="171.4" width="6.8" height="6.8" fill="#fcfcfc"/><rect x="702.6" y="171.4" width="6.8" height="6.8" fill="#fcfcfc"/><rect x="720.1" y="171.4" width="6.8" height="6.8" fill="#fcfcfc"/><rect x="737.8" y="171.4" width="6.8" height="6.8" fill="#fcfcfc"/><rect x="755.6" y="171.4" width="6.8" height="6.8" fill="#fcfcfc"/><rect x="781" y="143.2" width="151.8" height="151.2" fill="#222222"/><rect x="791" y="152.7" width="131.3" height="132.3" fill="#e5e5e5"/><rect x="781" y="276.2" width="10.5" height="8.8" fill="#e5e5e5"/><rect x="798" y="150.2" width="127" height="19" fill="#222222"/><rect x="797.5" y="153.7" width="11" height="7.4" fill="#e9e9e9"/><rect x="791.5" y="153.7" width="6.5" height="18" fill="#e9e9e9"/><rect x="818.6" y="153.5" width="6.8" height="6.8" fill="#fcfcfc"/><rect x="836.1" y="153.5" width="6.8" height="6.8" fill="#fcfcfc"/><rect x="853.6" y="153.5" width="6.8" height="6.8" fill="#fcfcfc"/><rect x="871.4" y="153.5" width="6.8" height="6.8" fill="#fcfcfc"/><rect x="888.8" y="153.5" width="6.8" height="6.8" fill="#fcfcfc"/><rect x="906.6" y="153.5" width="6.8" height="6.8" fill="#fcfcfc"/><rect x="941" y="143.2" width="151.8" height="151.2" fill="#222222"/><rect x="951" y="152.7" width="131.3" height="132.3" fill="#e5e5e5"/><rect x="941" y="276.2" width="10.5" height="8.8" fill="#e5e5e5"/><rect x="1244.5" y="141" width="650.5" height="166.7" fill="#ebebeb" stroke="#cfcfcf" stroke-width="2"/><rect x="1253" y="148.4" width="151.8" height="151.8" fill="#222222"/><rect x="1262.4" y="157.8" width="60.9" height="131.4" fill="#e5e5e5"/><rect x="1262.4" y="281.20000000000005" width="132.4" height="8" fill="#e9e9e9"/><rect x="1386.8" y="272.4" width="8" height="16.8" fill="#e9e9e9"/><rect x="1262.4" y="157.8" width="8" height="142.4" fill="#e9e9e9"/><rect x="1334.0" y="158.7" width="7.2" height="7.2" fill="#fcfcfc"/><rect x="1334.0" y="176.4" width="7.2" height="7.2" fill="#fcfcfc"/><rect x="1334.0" y="194.0" width="7.2" height="7.2" fill="#fcfcfc"/><rect x="1334.0" y="211.6" width="7.2" height="7.2" fill="#fcfcfc"/><rect x="1334.0" y="229.4" width="7.2" height="7.2" fill="#fcfcfc"/><rect x="1334.0" y="247.0" width="7.2" height="7.2" fill="#fcfcfc"/><rect x="1334.0" y="264.4" width="7.2" height="7.2" fill="#fcfcfc"/><rect x="1351.3" y="272.4" width="8" height="9" fill="#e9e9e9"/><rect x="1351.7" y="167.7" width="7.2" height="7.2" fill="#fcfcfc"/><rect x="1351.7" y="185.3" width="7.2" height="7.2" fill="#fcfcfc"/><rect x="1351.7" y="202.8" width="7.2" height="7.2" fill="#fcfcfc"/><rect x="1351.7" y="220.4" width="7.2" height="7.2" fill="#fcfcfc"/><rect x="1351.7" y="238.0" width="7.2" height="7.2" fill="#fcfcfc"/><rect x="1351.7" y="255.7" width="7.2" height="7.2" fill="#fcfcfc"/><rect x="1369.3" y="158.7" width="7.2" height="7.2" fill="#fcfcfc"/><rect x="1369.3" y="176.4" width="7.2" height="7.2" fill="#fcfcfc"/><rect x="1369.3" y="194.0" width="7.2" height="7.2" fill="#fcfcfc"/><rect x="1369.3" y="211.6" width="7.2" height="7.2" fill="#fcfcfc"/><rect x="1369.3" y="229.4" width="7.2" height="7.2" fill="#fcfcfc"/><rect x="1369.3" y="247.0" width="7.2" height="7.2" fill="#fcfcfc"/><rect x="1369.3" y="264.4" width="7.2" height="7.2" fill="#fcfcfc"/><rect x="1386.6" y="272.4" width="8" height="9" fill="#e9e9e9"/><rect x="1387.0" y="167.7" width="7.2" height="7.2" fill="#fcfcfc"/><rect x="1387.0" y="185.3" width="7.2" height="7.2" fill="#fcfcfc"/><rect x="1387.0" y="202.8" width="7.2" height="7.2" fill="#fcfcfc"/><rect x="1387.0" y="220.4" width="7.2" height="7.2" fill="#fcfcfc"/><rect x="1387.0" y="238.0" width="7.2" height="7.2" fill="#fcfcfc"/><rect x="1387.0" y="255.7" width="7.2" height="7.2" fill="#fcfcfc"/><rect x="1413" y="148.4" width="151.8" height="151.8" fill="#222222"/><rect x="1422.4" y="157.8" width="43.3" height="131.4" fill="#e5e5e5"/><rect x="1422.4" y="281.20000000000005" width="132.4" height="8" fill="#e9e9e9"/><rect x="1546.8" y="272.4" width="8" height="16.8" fill="#e9e9e9"/><rect x="1422.4" y="157.8" width="8" height="142.4" fill="#e9e9e9"/><rect x="1476.1" y="272.4" width="8" height="9" fill="#e9e9e9"/><rect x="1476.5" y="167.7" width="7.2" height="7.2" fill="#fcfcfc"/><rect x="1476.5" y="185.3" width="7.2" height="7.2" fill="#fcfcfc"/><rect x="1476.5" y="202.8" width="7.2" height="7.2" fill="#fcfcfc"/><rect x="1476.5" y="220.4" width="7.2" height="7.2" fill="#fcfcfc"/><rect x="1476.5" y="238.0" width="7.2" height="7.2" fill="#fcfcfc"/><rect x="1476.5" y="255.7" width="7.2" height="7.2" fill="#fcfcfc"/><rect x="1494.0" y="158.7" width="7.2" height="7.2" fill="#fcfcfc"/><rect x="1494.0" y="176.4" width="7.2" height="7.2" fill="#fcfcfc"/><rect x="1494.0" y="194.0" width="7.2" height="7.2" fill="#fcfcfc"/><rect x="1494.0" y="211.6" width="7.2" height="7.2" fill="#fcfcfc"/><rect x="1494.0" y="229.4" width="7.2" height="7.2" fill="#fcfcfc"/><rect x="1494.0" y="247.0" width="7.2" height="7.2" fill="#fcfcfc"/><rect x="1494.0" y="264.4" width="7.2" height="7.2" fill="#fcfcfc"/><rect x="1511.3" y="272.4" width="8" height="9" fill="#e9e9e9"/><rect x="1511.7" y="167.7" width="7.2" height="7.2" fill="#fcfcfc"/><rect x="1511.7" y="185.3" width="7.2" height="7.2" fill="#fcfcfc"/><rect x="1511.7" y="202.8" width="7.2" height="7.2" fill="#fcfcfc"/><rect x="1511.7" y="220.4" width="7.2" height="7.2" fill="#fcfcfc"/><rect x="1511.7" y="238.0" width="7.2" height="7.2" fill="#fcfcfc"/><rect x="1511.7" y="255.7" width="7.2" height="7.2" fill="#fcfcfc"/><rect x="1529.3" y="158.7" width="7.2" height="7.2" fill="#fcfcfc"/><rect x="1529.3" y="176.4" width="7.2" height="7.2" fill="#fcfcfc"/><rect x="1529.3" y="194.0" width="7.2" height="7.2" fill="#fcfcfc"/><rect x="1529.3" y="211.6" width="7.2" height="7.2" fill="#fcfcfc"/><rect x="1529.3" y="229.4" width="7.2" height="7.2" fill="#fcfcfc"/><rect x="1529.3" y="247.0" width="7.2" height="7.2" fill="#fcfcfc"/><rect x="1529.3" y="264.4" width="7.2" height="7.2" fill="#fcfcfc"/><rect x="1546.6" y="272.4" width="8" height="9" fill="#e9e9e9"/><rect x="1547.0" y="167.7" width="7.2" height="7.2" fill="#fcfcfc"/><rect x="1547.0" y="185.3" width="7.2" height="7.2" fill="#fcfcfc"/><rect x="1547.0" y="202.8" width="7.2" height="7.2" fill="#fcfcfc"/><rect x="1547.0" y="220.4" width="7.2" height="7.2" fill="#fcfcfc"/><rect x="1547.0" y="238.0" width="7.2" height="7.2" fill="#fcfcfc"/><rect x="1547.0" y="255.7" width="7.2" height="7.2" fill="#fcfcfc"/><rect x="1573" y="148.4" width="151.8" height="151.8" fill="#222222"/><rect x="1582.4" y="157.8" width="25.6" height="131.4" fill="#e5e5e5"/><rect x="1582.4" y="281.20000000000005" width="132.4" height="8" fill="#e9e9e9"/><rect x="1706.8" y="272.4" width="8" height="16.8" fill="#e9e9e9"/><rect x="1582.4" y="157.8" width="8" height="142.4" fill="#e9e9e9"/><rect x="1618.8" y="158.7" width="7.2" height="7.2" fill="#fcfcfc"/><rect x="1618.8" y="176.4" width="7.2" height="7.2" fill="#fcfcfc"/><rect x="1618.8" y="194.0" width="7.2" height="7.2" fill="#fcfcfc"/><rect x="1618.8" y="211.6" width="7.2" height="7.2" fill="#fcfcfc"/><rect x="1618.8" y="229.4" width="7.2" height="7.2" fill="#fcfcfc"/><rect x="1618.8" y="247.0" width="7.2" height="7.2" fill="#fcfcfc"/><rect x="1618.8" y="264.4" width="7.2" height="7.2" fill="#fcfcfc"/><rect x="1636.1" y="272.4" width="8" height="9" fill="#e9e9e9"/><rect x="1636.5" y="167.7" width="7.2" height="7.2" fill="#fcfcfc"/><rect x="1636.5" y="185.3" width="7.2" height="7.2" fill="#fcfcfc"/><rect x="1636.5" y="202.8" width="7.2" height="7.2" fill="#fcfcfc"/><rect x="1636.5" y="220.4" width="7.2" height="7.2" fill="#fcfcfc"/><rect x="1636.5" y="238.0" width="7.2" height="7.2" fill="#fcfcfc"/><rect x="1636.5" y="255.7" width="7.2" height="7.2" fill="#fcfcfc"/><rect x="1654.0" y="158.7" width="7.2" height="7.2" fill="#fcfcfc"/><rect x="1654.0" y="176.4" width="7.2" height="7.2" fill="#fcfcfc"/><rect x="1654.0" y="194.0" width="7.2" height="7.2" fill="#fcfcfc"/><rect x="1654.0" y="211.6" width="7.2" height="7.2" fill="#fcfcfc"/><rect x="1654.0" y="229.4" width="7.2" height="7.2" fill="#fcfcfc"/><rect x="1654.0" y="247.0" width="7.2" height="7.2" fill="#fcfcfc"/><rect x="1654.0" y="264.4" width="7.2" height="7.2" fill="#fcfcfc"/><rect x="1671.3" y="272.4" width="8" height="9" fill="#e9e9e9"/><rect x="1671.7" y="167.7" width="7.2" height="7.2" fill="#fcfcfc"/><rect x="1671.7" y="185.3" width="7.2" height="7.2" fill="#fcfcfc"/><rect x="1671.7" y="202.8" width="7.2" height="7.2" fill="#fcfcfc"/><rect x="1671.7" y="220.4" width="7.2" height="7.2" fill="#fcfcfc"/><rect x="1671.7" y="238.0" width="7.2" height="7.2" fill="#fcfcfc"/><rect x="1671.7" y="255.7" width="7.2" height="7.2" fill="#fcfcfc"/><rect x="1689.3" y="158.7" width="7.2" height="7.2" fill="#fcfcfc"/><rect x="1689.3" y="176.4" width="7.2" height="7.2" fill="#fcfcfc"/><rect x="1689.3" y="194.0" width="7.2" height="7.2" fill="#fcfcfc"/><rect x="1689.3" y="211.6" width="7.2" height="7.2" fill="#fcfcfc"/><rect x="1689.3" y="229.4" width="7.2" height="7.2" fill="#fcfcfc"/><rect x="1689.3" y="247.0" width="7.2" height="7.2" fill="#fcfcfc"/><rect x="1689.3" y="264.4" width="7.2" height="7.2" fill="#fcfcfc"/><rect x="1706.6" y="272.4" width="8" height="9" fill="#e9e9e9"/><rect x="1707.0" y="167.7" width="7.2" height="7.2" fill="#fcfcfc"/><rect x="1707.0" y="185.3" width="7.2" height="7.2" fill="#fcfcfc"/><rect x="1707.0" y="202.8" width="7.2" height="7.2" fill="#fcfcfc"/><rect x="1707.0" y="220.4" width="7.2" height="7.2" fill="#fcfcfc"/><rect x="1707.0" y="238.0" width="7.2" height="7.2" fill="#fcfcfc"/><rect x="1707.0" y="255.7" width="7.2" height="7.2" fill="#fcfcfc"/><rect x="1733" y="148.4" width="151.8" height="151.8" fill="#222222"/><rect x="1742.4" y="157.8" width="8.0" height="131.4" fill="#e5e5e5"/><rect x="1742.4" y="281.20000000000005" width="132.4" height="8" fill="#e9e9e9"/><rect x="1866.8" y="272.4" width="8" height="16.8" fill="#e9e9e9"/><rect x="1742.4" y="157.8" width="8" height="142.4" fill="#e9e9e9"/><rect x="1760.8" y="272.4" width="8" height="9" fill="#e9e9e9"/><rect x="1761.2" y="167.7" width="7.2" height="7.2" fill="#fcfcfc"/><rect x="1761.2" y="185.3" width="7.2" height="7.2" fill="#fcfcfc"/><rect x="1761.2" y="202.8" width="7.2" height="7.2" fill="#fcfcfc"/><rect x="1761.2" y="220.4" width="7.2" height="7.2" fill="#fcfcfc"/><rect x="1761.2" y="238.0" width="7.2" height="7.2" fill="#fcfcfc"/><rect x="1761.2" y="255.7" width="7.2" height="7.2" fill="#fcfcfc"/><rect x="1778.8" y="158.7" width="7.2" height="7.2" fill="#fcfcfc"/><rect x="1778.8" y="176.4" width="7.2" height="7.2" fill="#fcfcfc"/><rect x="1778.8" y="194.0" width="7.2" height="7.2" fill="#fcfcfc"/><rect x="1778.8" y="211.6" width="7.2" height="7.2" fill="#fcfcfc"/><rect x="1778.8" y="229.4" width="7.2" height="7.2" fill="#fcfcfc"/><rect x="1778.8" y="247.0" width="7.2" height="7.2" fill="#fcfcfc"/><rect x="1778.8" y="264.4" width="7.2" height="7.2" fill="#fcfcfc"/><rect x="1796.1" y="272.4" width="8" height="9" fill="#e9e9e9"/><rect x="1796.5" y="167.7" width="7.2" height="7.2" fill="#fcfcfc"/><rect x="1796.5" y="185.3" width="7.2" height="7.2" fill="#fcfcfc"/><rect x="1796.5" y="202.8" width="7.2" height="7.2" fill="#fcfcfc"/><rect x="1796.5" y="220.4" width="7.2" height="7.2" fill="#fcfcfc"/><rect x="1796.5" y="238.0" width="7.2" height="7.2" fill="#fcfcfc"/><rect x="1796.5" y="255.7" width="7.2" height="7.2" fill="#fcfcfc"/><rect x="1814.0" y="158.7" width="7.2" height="7.2" fill="#fcfcfc"/><rect x="1814.0" y="176.4" width="7.2" height="7.2" fill="#fcfcfc"/><rect x="1814.0" y="194.0" width="7.2" height="7.2" fill="#fcfcfc"/><rect x="1814.0" y="211.6" width="7.2" height="7.2" fill="#fcfcfc"/><rect x="1814.0" y="229.4" width="7.2" height="7.2" fill="#fcfcfc"/><rect x="1814.0" y="247.0" width="7.2" height="7.2" fill="#fcfcfc"/><rect x="1814.0" y="264.4" width="7.2" height="7.2" fill="#fcfcfc"/><rect x="1831.3" y="272.4" width="8" height="9" fill="#e9e9e9"/><rect x="1831.7" y="167.7" width="7.2" height="7.2" fill="#fcfcfc"/><rect x="1831.7" y="185.3" width="7.2" height="7.2" fill="#fcfcfc"/><rect x="1831.7" y="202.8" width="7.2" height="7.2" fill="#fcfcfc"/><rect x="1831.7" y="220.4" width="7.2" height="7.2" fill="#fcfcfc"/><rect x="1831.7" y="238.0" width="7.2" height="7.2" fill="#fcfcfc"/><rect x="1831.7" y="255.7" width="7.2" height="7.2" fill="#fcfcfc"/><rect x="1849.3" y="158.7" width="7.2" height="7.2" fill="#fcfcfc"/><rect x="1849.3" y="176.4" width="7.2" height="7.2" fill="#fcfcfc"/><rect x="1849.3" y="194.0" width="7.2" height="7.2" fill="#fcfcfc"/><rect x="1849.3" y="211.6" width="7.2" height="7.2" fill="#fcfcfc"/><rect x="1849.3" y="229.4" width="7.2" height="7.2" fill="#fcfcfc"/><rect x="1849.3" y="247.0" width="7.2" height="7.2" fill="#fcfcfc"/><rect x="1849.3" y="264.4" width="7.2" height="7.2" fill="#fcfcfc"/><rect x="1866.6" y="272.4" width="8" height="9" fill="#e9e9e9"/><rect x="1867.0" y="167.7" width="7.2" height="7.2" fill="#fcfcfc"/><rect x="1867.0" y="185.3" width="7.2" height="7.2" fill="#fcfcfc"/><rect x="1867.0" y="202.8" width="7.2" height="7.2" fill="#fcfcfc"/><rect x="1867.0" y="220.4" width="7.2" height="7.2" fill="#fcfcfc"/><rect x="1867.0" y="238.0" width="7.2" height="7.2" fill="#fcfcfc"/><rect x="1867.0" y="255.7" width="7.2" height="7.2" fill="#fcfcfc"/>
<path d="M607.5,1391 H777" stroke="#0600c2" stroke-width="13" fill="none"/><text x="786" y="1422.8" font-family="'Liberation Serif','Times New Roman',serif" font-size="81" textLength="1297" lengthAdjust="spacing" style="font-variant-ligatures:none">Final Tag_Configuration-4 (d = 0.2mm)</text>
</svg>
</body></html>
